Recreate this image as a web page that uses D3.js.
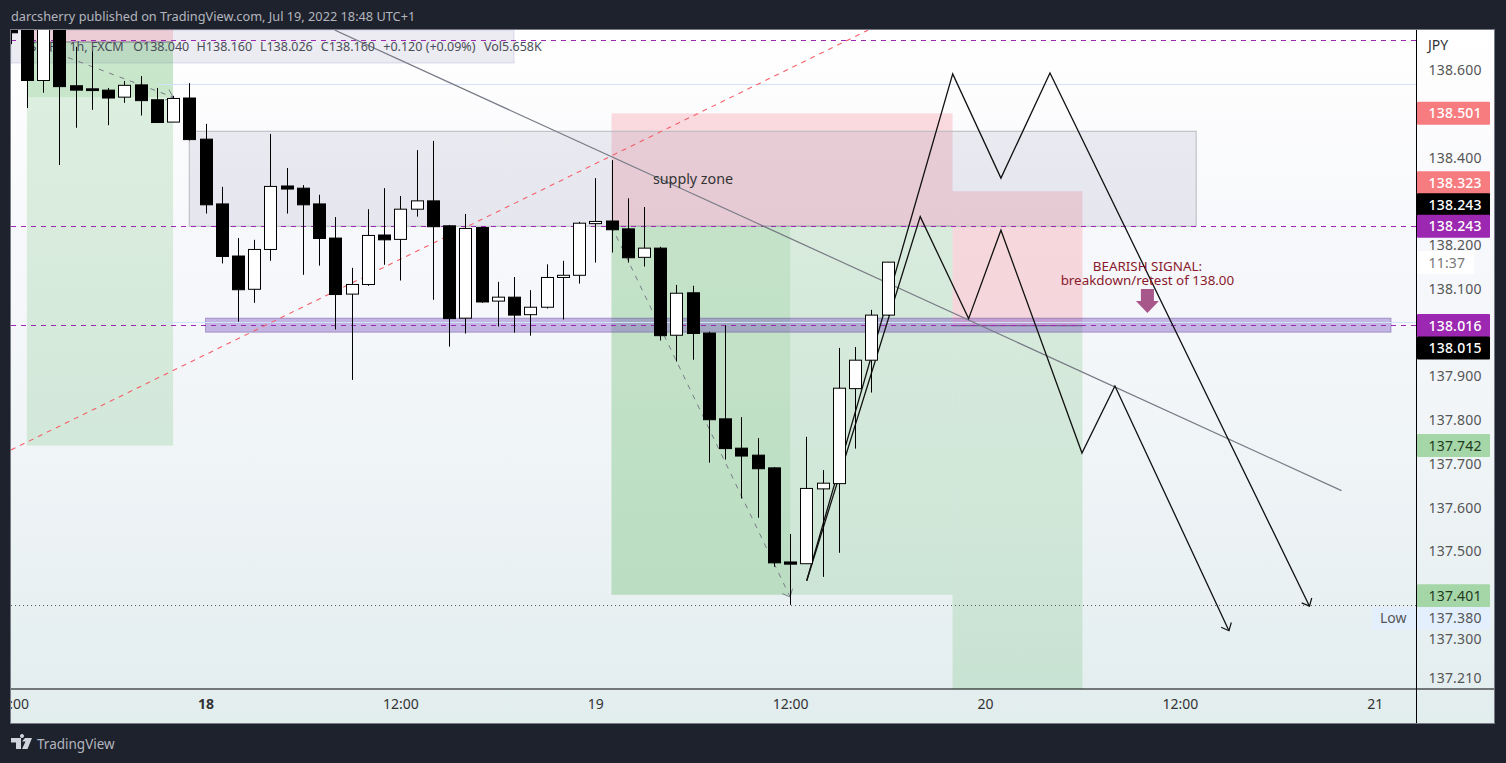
<!DOCTYPE html>
<html><head><meta charset="utf-8">
<script src="https://cdnjs.cloudflare.com/ajax/libs/d3/7.8.5/d3.min.js"></script>
<style>html,body{margin:0;padding:0;background:#1e222d;overflow:hidden}svg{display:block}text{font-family:"Noto Sans",sans-serif}</style>
</head><body><div id="c"></div>
<script>
// hours are counted from Jul 18 00:00
const firstHour = -12;
const opens  = [138.714,138.710,138.576,138.710,138.564,138.557,138.554,138.538,138.566,138.532,138.481,138.536,138.442,138.294,138.175,138.099,138.190,138.335,138.330,138.294,138.216,138.088,138.110,138.223,138.213,138.282,138.301,138.244,138.033,138.240,138.072,138.081,138.041,138.058,138.126,138.131,138.249,138.255,138.237,138.172,138.193,137.994,138.091,137.999,137.803,137.736,137.720,137.691,137.476,137.472,137.643,137.655,137.872,137.937,138.040];
const highs  = [138.726,138.726,138.726,138.726,138.653,138.643,138.559,138.575,138.586,138.559,138.541,138.570,138.477,138.333,138.216,138.212,138.454,138.376,138.337,138.315,138.264,138.148,138.282,138.330,138.312,138.417,138.438,138.246,138.271,138.241,138.116,138.127,138.097,138.156,138.164,138.253,138.353,138.394,138.307,138.287,138.196,138.109,138.107,138.002,138.017,137.807,137.759,137.693,137.540,137.762,137.686,137.965,137.967,138.052,138.161];
const lows   = [138.659,138.513,138.548,138.383,138.468,138.509,138.474,138.525,138.496,138.480,138.481,138.439,138.272,138.158,138.025,138.068,138.164,138.272,138.132,138.153,138.007,137.892,138.107,138.155,138.119,138.265,138.075,137.968,137.998,138.068,138.014,138.000,137.993,138.055,138.030,138.112,138.160,138.183,138.160,138.151,137.982,137.934,137.938,137.703,137.710,137.621,137.577,137.465,137.378,137.472,137.442,137.497,137.735,137.863,138.038];
const closes = [138.685,138.576,138.710,138.562,138.554,138.553,138.536,138.565,138.530,138.480,138.535,138.441,138.292,138.174,138.098,138.190,138.334,138.328,138.292,138.215,138.087,138.110,138.222,138.212,138.282,138.301,138.242,138.032,138.238,138.070,138.081,138.040,138.058,138.126,138.131,138.250,138.254,138.235,138.171,138.193,137.993,138.090,137.998,137.801,137.735,137.718,137.689,137.474,137.471,137.644,137.656,137.873,137.937,138.040,138.161];

const priceTicks = [138.6,138.4,138.2,138.1,137.9,137.8,137.7,137.6,137.5,137.3,137.21];
const timeTicks  = [-12,0,12,24,36,48,60,72];
const timeLabels = ["12:00","18","12:00","19","12:00","20","12:00","21"];

const title = "darcsherry published on TradingView.com, Jul 19, 2022 18:48 UTC+1";
const legendTexts = ["USDJPY, 1h, FXCM","O138.040","H138.160","L138.026","C138.160","+0.120 (+0.09%)","Vol5.658K"];
const legendHours = [-11.4,-4.45,-0.55,3.35,7.1,10.95,17.15];

// zones: [hour0, hour1, priceTop, priceBottom]
const greenZones = [[-11,-2,138.664,137.742],[25,46,138.243,137.401],[46,54,138.016,137.10]];
const greenOverlays = [[-11,-2,138.664,138.538],[25,36,138.243,137.401]];
const redZones   = [[-11,-2,138.80,138.664],[25,46,138.501,138.243],[46,54,138.323,138.016]];
const supplyZone = [-1,61,138.46,138.243];
const bandZone   = [0,73,138.033,138.001];
const dashedLevels = [138.667,138.243,138.016];
const blueLevels   = [[-2.9,138.567],[-2.9,138.024]];
const lowLevel = 137.380;

const redTrend  = [[-11.98,137.732],[40.8,138.691]];
const greyTrend = [[7.97,138.691],[69.95,137.639]];
const dashPath1 = [[-11,138.664],[-2,138.538]];
const dashPath2 = [[25,138.243],[36,137.396]];
const forecast1 = [[37.02,137.433],[46.01,138.591],[48.98,138.353],[52,138.593],[67.98,137.375]];
const forecast2 = [[37.02,137.433],[44.01,138.265],[46.99,138.032],[48.98,138.234],[53.97,137.725],[56,137.878],[63.02,137.319]];

const bearishHour = 58;
const bearishLines = ["BEARISH SIGNAL:","breakdown/retest of 138.00"];
const bearishPrices = [138.141,138.109];
const bearishArrowPrice = 138.045;
const supplyLabel = {text:"supply zone",hour:27.55,price:138.340};

const priceLabels = [
 {v:"138.501",price:138.501,fill:"#f77c80",ink:"#fff",shift:0},
 {v:"138.323",price:138.323,fill:"#f77c80",ink:"#fff",shift:-8.5},
 {v:"138.243",price:138.243,fill:"#000",ink:"#fff",shift:-21.5},
 {v:"138.243",price:138.243,fill:"#9c27b0",ink:"#fff",shift:0},
 {v:"138.016",price:138.016,fill:"#9c27b0",ink:"#fff",shift:0},
 {v:"138.015",price:138.015,fill:"#000",ink:"#fff",shift:22},
 {v:"137.742",price:137.742,fill:"#a5d6a7",ink:"#1e3a20",shift:0},
 {v:"137.401",price:137.401,fill:"#a5d6a7",ink:"#1e3a20",shift:1},
 {v:"137.380",price:137.380,fill:"#e3effd",ink:"#555",shift:14.5}
];

const W=1506,H=763, L=11,R=1417,T=30,B=689, RO=1494, BO=723;
const x=d3.scaleLinear().domain([0,72]).range([205.5,205.5+72*16.24]);
const y=d3.scaleLinear().domain([138.6,137.3]).range([70,639]);
const px=p=>[x(p[0]),y(p[1])];
const svg=d3.select("#c").append("svg").attr("width",W).attr("height",H);
const defs=svg.append("defs");
const g=defs.append("linearGradient").attr("id","bg").attr("x1",0).attr("x2",0).attr("y1",0).attr("y2",1);
[[0,"#ffffff"],[.08,"#fdfdfe"],[.3,"#f7f8fb"],[.5,"#f3f6f9"],[.75,"#ebf2f4"],[1,"#e2edee"]].forEach(s=>g.append("stop").attr("offset",s[0]).attr("stop-color",s[1]));
defs.append("clipPath").attr("id","plot").append("rect").attr("x",L).attr("y",T).attr("width",R-L).attr("height",B-T);

svg.append("rect").attr("x",L).attr("y",T).attr("width",RO-L).attr("height",BO-T).attr("fill","url(#bg)");
svg.append("text").attr("x",L).attr("y",21).attr("fill","#b2b5be").attr("font-size",12.75).text(title);

const plot=svg.append("g").attr("clip-path","url(#plot)");
function zone(z,fill,stroke){return plot.append("rect").attr("x",x(z[0])).attr("width",x(z[1])-x(z[0])).attr("y",y(z[2])).attr("height",y(z[3])-y(z[2])).attr("fill",fill).attr("stroke",stroke||"none");}
// legend strip
plot.append("rect").attr("x",L).attr("y",T).attr("width",503).attr("height",33).attr("fill","rgba(120,123,160,.14)").attr("stroke","rgba(150,150,210,.3)");
redZones.forEach(z=>zone(z,"rgba(242,54,69,.17)"));
greenZones.forEach(z=>zone(z,"rgba(76,175,80,.175)"));
greenOverlays.forEach(z=>zone(z,"rgba(76,175,80,.14)"));
// boundaries between risk and reward
[[-11,-2,138.664],[25,46,138.243],[46,54,138.016]].forEach(b=>plot.append("line").attr("x1",x(b[0])).attr("x2",x(b[1])).attr("y1",y(b[2])).attr("y2",y(b[2])).attr("stroke","#787b86").attr("stroke-width",1.2));
zone(supplyZone,"rgba(110,110,150,.12)","#b7b8c0");
zone(bandZone,"rgba(103,58,183,.35)","rgba(90,60,150,.4)");

blueLevels.forEach(b=>plot.append("line").attr("x1",x(b[0])).attr("x2",R).attr("y1",Math.floor(y(b[1]))+.5).attr("y2",Math.floor(y(b[1]))+.5).attr("stroke","#d0e3fa"));
dashedLevels.forEach(v=>plot.append("line").attr("x1",L).attr("x2",R).attr("y1",Math.floor(y(v))+.5).attr("y2",Math.floor(y(v))+.5).attr("stroke","#9c27b0").attr("stroke-dasharray","5 5"));
plot.append("line").attr("x1",L).attr("x2",R).attr("y1",Math.round(y(lowLevel))+1.5).attr("y2",Math.round(y(lowLevel))+1.5).attr("stroke","#555").attr("stroke-dasharray","1 3");

const ln=d3.line().x(d=>x(d[0])).y(d=>y(d[1]));
function path(d,stroke,w,dash){return plot.append("path").attr("d",ln(d)).attr("fill","none").attr("stroke",stroke).attr("stroke-width",w).attr("stroke-dasharray",dash||null);}
function head(d,stroke,w){
  const a=px(d[d.length-1]),b=px(d[d.length-2]),ang=Math.atan2(b[1]-a[1],b[0]-a[0]),len=8.5,sp=.72;
  const p=`M${a[0]+len*Math.cos(ang+sp)},${a[1]+len*Math.sin(ang+sp)}L${a[0]},${a[1]}L${a[0]+len*Math.cos(ang-sp)},${a[1]+len*Math.sin(ang-sp)}`;
  plot.append("path").attr("d",p).attr("fill","none").attr("stroke",stroke).attr("stroke-width",w);
}
path(redTrend,"#f4606a",1.1,"5 5");
path(greyTrend,"#787b86",1.2);
path(dashPath1,"#787b86",1,"5 6"); head(dashPath1,"#787b86",1);
path(dashPath2,"#787b86",1,"5 6"); head(dashPath2,"#787b86",1);
path(forecast1,"#111",1.3); head(forecast1,"#111",1.2);
path(forecast2,"#111",1.3); head(forecast2,"#111",1.2);

// legend text
legendTexts.forEach((t,i)=>plot.append("text").attr("x",x(legendHours[i])).attr("y",51).attr("fill","#4a4d57").attr("font-size",12.5).text(t));

// annotations
plot.append("text").attr("x",x(supplyLabel.hour)).attr("y",y(supplyLabel.price)).attr("fill","#333").attr("font-size",14.3).text(supplyLabel.text);
bearishLines.forEach((t,i)=>plot.append("text").attr("x",x(bearishHour)).attr("y",y(bearishPrices[i])).attr("text-anchor","middle").attr("fill","#8b1a2c").attr("font-size",13.4).text(t));
const ax=x(bearishHour),ay=y(bearishArrowPrice);
plot.append("path").attr("d",`M${ax},${ay}l-11.5,-12h5v-12h13v12h5z`).attr("fill","#a8578a");

// candles
const n=opens.length;
const cg=plot.append("g");
for(let i=0;i<n;i++){
  const cx=Math.round(x(firstHour+i))+.5, up=closes[i]>=opens[i];
  const top=y(Math.max(opens[i],closes[i])),bot=y(Math.min(opens[i],closes[i]));
  cg.append("line").attr("x1",cx).attr("x2",cx).attr("y1",y(highs[i])).attr("y2",y(lows[i])).attr("stroke","#000").attr("stroke-width",1);
  cg.append("rect").attr("x",cx-6).attr("width",12).attr("y",top).attr("height",Math.max(bot-top,1)).attr("fill",up?"#fff":"#000").attr("stroke","#000").attr("stroke-width",1);
}

// time axis
defs.append("clipPath").attr("id","tx").append("rect").attr("x",L).attr("y",B).attr("width",R-L).attr("height",BO-B);
const xAxis=d3.axisBottom(x).tickValues(timeTicks).tickSize(0).tickPadding(10).tickFormat((d,i)=>timeLabels[i]);
const xaInner=svg.append("g").attr("clip-path","url(#tx)").append("g").attr("transform",`translate(0,${B})`).call(xAxis);
xaInner.select(".domain").remove();
xaInner.selectAll("text").attr("fill","#333").attr("font-size",14).attr("font-weight",d=>d===0?700:400);

// price axis
const yAxis=d3.axisRight(y).tickValues(priceTicks).tickSize(0).tickPadding(11.5).tickFormat(d3.format(".3f"));
const ya=svg.append("g").attr("transform",`translate(${R},0)`).call(yAxis);
ya.select(".domain").remove();
ya.selectAll("text").attr("fill","#555").attr("font-size",14).attr("letter-spacing",.2);
svg.append("text").attr("x",R+11).attr("y",50).attr("fill","#333").attr("font-size",14).text("JPY");

// frame lines
svg.append("rect").attr("x",L-.5).attr("y",T-.5).attr("width",RO-L+1).attr("height",BO-T+1).attr("fill","none").attr("stroke","#787b86");
svg.append("line").attr("x1",R-.5).attr("x2",R-.5).attr("y1",T).attr("y2",BO).attr("stroke","#000");
svg.append("line").attr("x1",L).attr("x2",RO).attr("y1",B).attr("y2",B).attr("stroke","#000").attr("stroke-width",1.2);

// countdown and low tag
const lbl=svg.append("g");
lbl.append("rect").attr("x",R).attr("y",251).attr("width",57).attr("height",23).attr("fill","#fff");
lbl.append("text").attr("x",R+11.5).attr("y",267.5).attr("fill","#777").attr("font-size",14).attr("letter-spacing",.2).text("11:37");
priceLabels.forEach(l=>{
  const cy=y(l.price)+l.shift;
  lbl.append("rect").attr("x",R).attr("y",cy-11.5).attr("width",73).attr("height",23).attr("rx",1).attr("fill",l.fill);
  lbl.append("text").attr("x",R+11.5).attr("y",cy+5).attr("fill",l.ink).attr("font-size",14).attr("letter-spacing",.2).attr("font-weight",l.ink==="#fff"?500:400).text(l.v);
});
lbl.append("rect").attr("x",1372).attr("y",y(lowLevel)+3).attr("width",44).attr("height",23).attr("fill","#e3effd");
lbl.append("text").attr("x",1380).attr("y",y(lowLevel)+19.5).attr("fill","#555").attr("font-size",14).text("Low");

// brand
svg.append("path").attr("d","M11 738h10v11h-5v-6.5h-5zM25 738h7l-4.5 11h-5.5l3.5-7.5h-3.5zM22 738a2 2 0 1 1 .01 0z").attr("fill","#d1d4dc");
svg.append("text").attr("x",37).attr("y",749).attr("fill","#b2b5be").attr("font-size",13.5).text("TradingView");
</script></body></html>
